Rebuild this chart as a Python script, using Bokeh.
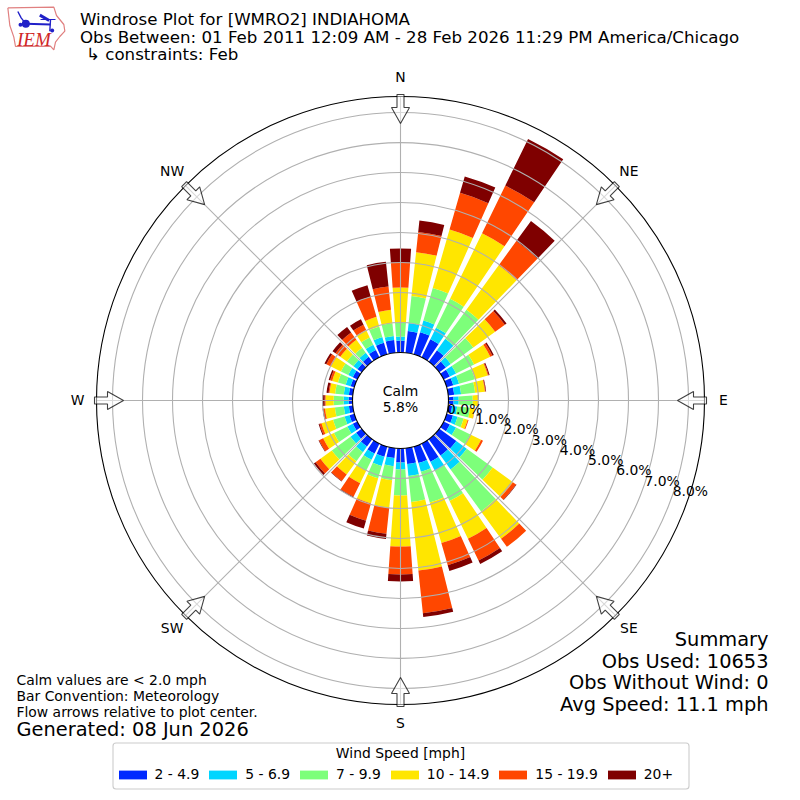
import numpy as np
from bokeh.plotting import figure
from bokeh.models import Range1d, Legend, LegendItem
from bokeh.core.properties import value
from bokeh.embed import file_html
from bokeh.resources import INLINE

# Percent of observations per direction (every 10 deg, clockwise from N) and speed bin
directions = list(range(0, 360, 10))
speed_labels = ["2 - 4.9", "5 - 6.9", "7 - 9.9", "10 - 14.9", "15 - 19.9", "20+"]
speed_colors = ["#0029ff", "#00d5ff", "#7dff7a", "#ffe600", "#ff4700", "#7f0000"]
bin_2_5 = [.40,.73,.77,.67,.47,.27,.23,.23,.20,.17,.13,.22,.23,.70,.67,.67,.57,.53,
           .47,.33,.35,.37,.30,.23,.17,.17,.13,.13,.13,.13,.17,.17,.20,.27,.40,.43]
bin_5_7 = [.13,.27,.40,.43,.47,.20,.23,.20,.23,.17,.17,.16,.23,.43,.57,.33,.30,.40,
           .23,.27,.32,.23,.23,.23,.20,.17,.17,.17,.17,.17,.17,.17,.17,.20,.20,.13]
bin_7_10 = [.47,.90,1.13,1.07,1.20,.93,.67,.55,.47,.47,.43,.21,.53,1.07,1.73,1.13,1.07,.87,
            .87,.47,.43,.40,.37,.77,.50,.40,.30,.33,.29,.27,.27,.27,.20,.27,.37,.43]
bin_10_15 = [1.17,1.47,2.03,2.43,1.83,.90,.60,.45,.33,.17,.15,.14,.40,.83,1.13,1.40,1.40,2.30,
             1.70,.93,.87,.47,.55,.47,.40,.40,.33,.27,.19,.20,.37,.27,.33,.27,.33,.45]
bin_15_20 = [.83,.68,1.27,1.77,1.00,.40,.08,.03,.02,.03,.01,.03,.07,.13,.33,.80,.77,1.43,
             .93,.87,.60,.50,.27,.20,.15,.07,.05,.03,.03,.07,.17,.20,.30,.20,.70,.78]
bin_20 = [.47,.38,.57,1.73,.83,.07,.05,.03,.02,.00,.00,.00,.00,.02,.00,.13,.20,.13,
          .23,.17,.27,.03,.02,.07,.02,.03,.03,.08,.07,.05,.07,.12,.23,.20,.40,.83]
series = [bin_2_5, bin_5_7, bin_7_10, bin_10_15, bin_15_20, bin_20]

title_lines = ["Windrose Plot for [WMRO2] INDIAHOMA",
               "Obs Between: 01 Feb 2011 12:09 AM - 28 Feb 2026 11:29 PM America/Chicago",
               "\u21b3 constraints: Feb"]
summary_lines = ["Summary", "Obs Used: 10653", "Obs Without Wind: 0", "Avg Speed: 11.1 mph"]
note_lines = ["Calm values are < 2.0 mph", "Bar Convention: Meteorology", "Flow arrows relative to plot center."]
generated = "Generated: 08 Jun 2026"
ring_ticks = [0, 1, 2, 3, 4, 5, 6, 7, 8]
compass = ["N", "NE", "E", "SE", "S", "SW", "W", "NW"]
compass_deg = [0, 45, 90, 135, 180, 225, 270, 315]

# Geometry: 30 px per 1 %
PX = 30.0
R0 = 48 / PX      # radial origin (calm circle)
ROUT = 304 / PX   # axes edge
W, H = 792, 792


def dx(px):
    return (px - 400) / PX


def dy(py):
    return (400 - py) / PX


p = figure(width=W, height=H, output_backend="svg", toolbar_location=None,
           x_range=Range1d(dx(0), dx(W)), y_range=Range1d(dy(H), dy(0)),
           min_border=0, outline_line_color=None, background_fill_color="white")
p.axis.visible = False
p.grid.visible = False


def txt(x, y, s, size, align="left", font="DejaVu Sans", color="black", style="normal"):
    p.text(x=[dx(x)], y=[dy(y)], text=[s], text_font=value(font), text_font_size=value(f"{size}px"),
           text_align=align, text_baseline="alphabetic", text_color=color, text_font_style=style)


# Bars
dirs = np.array(directions, dtype=float)
inner = np.full(len(dirs), R0)
bar_half = 4.0
for vals, col in zip(series, speed_colors):
    outer = inner + np.array(vals)
    p.annular_wedge(x=0, y=0, inner_radius=inner, outer_radius=outer,
                    start_angle=np.radians(90 - dirs - bar_half),
                    end_angle=np.radians(90 - dirs + bar_half),
                    fill_color=col, line_color=None)
    inner = outer

# Grid
GRID = "#b0b0b0"
for t in ring_ticks[1:]:
    p.circle(x=[0], y=[0], radius=R0 + t, fill_color=None, line_color=GRID, line_width=1.1)
ang = np.radians(compass_deg)
p.segment(x0=R0 * np.sin(ang), y0=R0 * np.cos(ang), x1=ROUT * np.sin(ang), y1=ROUT * np.cos(ang),
          line_color=GRID, line_width=1.1)

# Calm circle and frame
p.circle(x=[0], y=[0], radius=R0, fill_color="white", line_color="black", line_width=1.1)
p.circle(x=[0], y=[0], radius=ROUT, fill_color=None, line_color="black", line_width=1.1)

# Flow arrows
for a in ang:
    u = np.array([np.sin(a), np.cos(a)])
    v = np.array([np.cos(a), -np.sin(a)])
    rs = np.array([306, 293, 293, 277, 293, 293, 306]) / PX
    os_ = np.array([3.5, 3.5, 9, 0, -9, -3.5, -3.5]) / PX
    xs = rs * u[0] + os_ * v[0]
    ys = rs * u[1] + os_ * v[1]
    p.patch(xs, ys, fill_color="white", fill_alpha=0.5, line_color="black", line_alpha=0.75, line_width=1.1)

# Compass labels
for name, a in zip(compass, ang):
    p.text(x=[(323 / PX) * np.sin(a)], y=[(323 / PX) * np.cos(a)], text=[name], y_offset=-1,
           text_font=value("DejaVu Sans"), text_font_size=value("13.9px"),
           text_align="center", text_baseline="middle", text_color="black")

# Radial tick labels
rl = np.radians(20)
for t in ring_ticks:
    r = R0 + t
    p.text(x=[r * np.cos(rl)], y=[-r * np.sin(rl)], text=[f"{t:.1f}%"], x_offset=1.5, y_offset=-8,
           text_font=value("DejaVu Sans"), text_font_size=value("13.9px"),
           text_align="left", text_baseline="alphabetic", text_color="black")

# Calm text
txt(400, 390, "Calm", 13.9, "center")
txt(400, 406, "5.8%", 13.9, "center")

# Header
for line, x, y in zip(title_lines, [79.5, 79.5, 85.5], [19, 37, 54]):
    txt(x, y, line, 16.67)

# Summary
for line, y in zip(summary_lines, [639, 661, 682, 704]):
    txt(768, y, line, 19.4, "right")

# Notes
for line, y in zip(note_lines, [679, 695, 711]):
    txt(16, y, line, 13.9)
txt(16, 729, generated, 19.4)

# Logo
lx = np.array([22, 160, 168, 190, 193, 178, 165, 160, 150, 45, 40, 28, 22]) / 3
ly = np.array([22, 20, 45, 72, 92, 108, 125, 148, 137, 138, 110, 75, 22]) / 3
p.line(dx(lx), dy(ly), line_color="#e08080", line_width=1.2)
BL = "#2020c8"
p.line(dx(np.array([52, 62, 76]) / 3), dy(np.array([33, 52, 70]) / 3), line_color=BL, line_width=1.4)
p.line(dx(np.array([76, 150]) / 3), dy(np.array([70, 72]) / 3), line_color=BL, line_width=2)
p.line(dx(np.array([118, 146]) / 3), dy(np.array([44, 60]) / 3), line_color=BL, line_width=3)
p.line(dx(np.array([120, 165]) / 3), dy(np.array([57, 57]) / 3), line_color=BL, line_width=1)
p.line(dx(np.array([150, 148]) / 3), dy(np.array([57, 92]) / 3), line_color=BL, line_width=1.4)
p.scatter(dx(np.array([76, 60, 155]) / 3), dy(np.array([70, 73, 90]) / 3), size=[8, 4, 4],
          fill_color=BL, line_color=None)
txt(16.5, 38.5, "IEM", 19, font="Liberation Serif", color="#d02828", style="italic")

# Legend frame and title
p.quad(left=[dx(112.5)], right=[dx(688.5)], top=[dy(742.5)], bottom=[dy(788.5)], fill_color="white",
       line_color="#cccccc", line_width=1.1, border_radius=3)
txt(400, 752, "Wind Speed [mph]", 13.9, "center")

# Legend
items = []
for lab, col in zip(speed_labels, speed_colors):
    r = p.quad(left=[np.nan], right=[np.nan], bottom=[np.nan], top=[np.nan], fill_color=col, line_color=None)
    items.append(LegendItem(label=lab, renderers=[r]))
legend = Legend(items=items, orientation="horizontal", location=(114.5, 10),
                label_text_font="DejaVu Sans", label_text_font_size="13.9px", label_text_color="black",
                glyph_width=35, glyph_height=11, label_standoff=5, spacing=6, padding=0, margin=0,
                border_line_color=None, background_fill_alpha=0)
p.add_layout(legend, "center")

open("out.html", "w").write(file_html(p, INLINE))
